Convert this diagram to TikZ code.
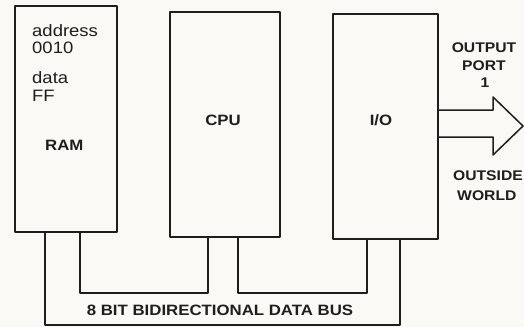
\documentclass[tikz,border=0pt]{standalone}
\usepackage{fontspec}
\setmainfont[FakeStretch=1.12]{Liberation Sans}
\definecolor{ink}{HTML}{1E1E1E}
\definecolor{paper}{HTML}{FAF9F5}

\begin{document}
\begin{tikzpicture}[x=1pt,y=-1pt,line cap=round,line join=round,
  box/.style={draw=ink,line width=2pt,inner sep=0pt,outer sep=0pt},
  bus/.style={draw=ink,line width=1.5pt},
  txt/.style={text=ink,inner sep=0pt,font=\fontsize{16.5}{18}\selectfont},
  bold/.style={text=ink,inner sep=0pt,font=\bfseries\fontsize{15}{17}\selectfont},
  side/.style={bold,font=\bfseries\fontsize{14}{16}\selectfont}]
  \path[fill=paper,use as bounding box] (0,0) rectangle (524,327);
  % the three boxes
  \node[box,minimum width=102pt,minimum height=226pt] (ram) at (66,119) {};
  \node[box,minimum width=110pt,minimum height=225pt] (cpu) at (225,124.5) {};
  \node[box,minimum width=105pt,minimum height=225pt] (io) at (385.5,126.5) {};
  \node[txt,anchor=base west] (addr) at (32,36) {address};
  \node[txt,anchor=base west] (addrval) at (32,53) {0010};
  \node[txt,anchor=base west] (data) at (32,83) {data};
  \node[txt,anchor=base west] (dataval) at (32,101) {FF};
  \node[bold,anchor=base west] (ramlbl) at (45,150) {RAM};
  \node[bold,anchor=base] (cpulbl) at (223,125) {CPU};
  \node[bold,anchor=base] (iolbl) at (381,125) {I/O};
  % data bus
  \coordinate (bA) at (80,293);
  \coordinate (bB) at (208,293);
  \coordinate (bC) at (238,293);
  \coordinate (bD) at (367,293);
  \coordinate (bE) at (45,325);
  \coordinate (bF) at (400,325);
  \draw[bus] (ram.south -| bA) -- (bA) -- (bB) -- (cpu.south -| bB);
  \draw[bus] (cpu.south -| bC) -- (bC) -- (bD) -- (io.south -| bD);
  \draw[bus] (ram.south -| bE) -- (bE) -- (bF) -- (io.south -| bF);
  \node[bold,anchor=base] (buslbl) at (220,315) {8 BIT BIDIRECTIONAL DATA BUS};
  % output port
  \draw[bus] (io.east |- 0,110) -- (493,110) -- (493,97) -- (523,126)
    -- (493,155) -- (493,137) -- (io.east |- 0,137);
  \node[side,anchor=base] (outlbl) at (484,52) {OUTPUT};
  \node[side,anchor=base] (portlbl) at (484,70) {PORT};
  \node[side,anchor=base] (portnum) at (485,87) {1};
  \node[side,anchor=base east] (outside) at (523,180) {OUTSIDE};
  \node[side,anchor=base west] (world) at (457,200) {WORLD};
\end{tikzpicture}
\end{document}
